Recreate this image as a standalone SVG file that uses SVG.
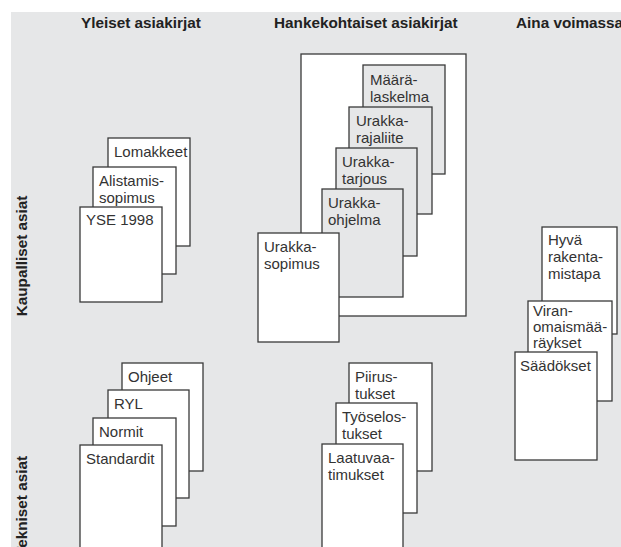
<svg xmlns="http://www.w3.org/2000/svg" width="621" height="547" viewBox="0 0 621 547">
<style>
  .bg { fill: #e6e7e8; }
  .doc { fill: #ffffff; stroke: #3a3a3a; stroke-width: 1.3; }
  .docg { fill: #e6e7e8; stroke: #3a3a3a; stroke-width: 1.3; }
  .t { font-family: "Liberation Sans", Arial, sans-serif; font-size: 15px; fill: #333333; }
  .h { font-family: "Liberation Sans", Arial, sans-serif; font-size: 15.3px; font-weight: bold; fill: #222222; }
</style>
<rect width="621" height="547" fill="#ffffff"/>
<rect class="bg" x="11" y="12" width="610" height="535"/>

<g id="headers">
  <text class="h" x="81" y="28">Yleiset asiakirjat</text>
  <text class="h" x="274" y="28">Hankekohtaiset asiakirjat</text>
  <text class="h" x="516" y="28">Aina voimassa</text>
  <text class="h" transform="translate(27,256) rotate(-90)" text-anchor="middle">Kaupalliset asiat</text>
  <text class="h" transform="translate(27,456) rotate(-90)" text-anchor="end">Tekniset asiat</text>
</g>

<g id="connectors"></g>

<!-- Column 1, commercial -->
<g id="lomakkeet">
  <rect class="doc" x="108" y="138" width="82" height="108"/>
  <text class="t" x="114" y="157">Lomakkeet</text>
</g>
<g id="alistamissopimus">
  <rect class="doc" x="93" y="167" width="83" height="107"/>
  <text class="t" x="99" y="186">Alistamis-</text>
  <text class="t" x="99" y="203">sopimus</text>
</g>
<g id="yse1998">
  <rect class="doc" x="80" y="207" width="82" height="95"/>
  <text class="t" x="86" y="225">YSE 1998</text>
</g>

<!-- Column 2, commercial -->
<g id="hankekohtaiset">
  <rect class="doc" x="301" y="54" width="165" height="262"/>
</g>
<g id="maaralaskelma">
  <rect class="docg" x="363" y="65" width="82" height="109"/>
  <text class="t" x="370" y="85">Määrä-</text>
  <text class="t" x="370" y="102">laskelma</text>
</g>
<g id="urakkarajaliite">
  <rect class="docg" x="349" y="107" width="83" height="107"/>
  <text class="t" x="356" y="126">Urakka-</text>
  <text class="t" x="356" y="143">rajaliite</text>
</g>
<g id="urakkatarjous">
  <rect class="docg" x="336" y="148" width="81" height="108"/>
  <text class="t" x="342" y="167">Urakka-</text>
  <text class="t" x="342" y="184">tarjous</text>
</g>
<g id="urakkaohjelma">
  <rect class="docg" x="322" y="189" width="81" height="108"/>
  <text class="t" x="328" y="208">Urakka-</text>
  <text class="t" x="328" y="225">ohjelma</text>
</g>
<g id="urakkasopimus">
  <rect class="doc" x="258" y="233" width="81" height="109"/>
  <text class="t" x="264" y="252">Urakka-</text>
  <text class="t" x="264" y="269">sopimus</text>
</g>

<!-- Column 3 -->
<g id="hyvarakentamistapa">
  <rect class="doc" x="542" y="227" width="75" height="107"/>
  <text class="t" x="548" y="245">Hyvä</text>
  <text class="t" x="548" y="262">rakenta-</text>
  <text class="t" x="548" y="279">mistapa</text>
</g>
<g id="viranomaismaaraykset">
  <rect class="doc" x="528" y="301" width="84" height="100"/>
  <text class="t" x="533" y="316">Viran-</text>
  <text class="t" x="533" y="332">omaismää-</text>
  <text class="t" x="533" y="348">räykset</text>
</g>
<g id="saadokset">
  <rect class="doc" x="515" y="352" width="82" height="108"/>
  <text class="t" x="520" y="371">Säädökset</text>
</g>

<!-- Column 1, technical -->
<g id="ohjeet">
  <rect class="doc" x="122" y="363" width="81" height="108"/>
  <text class="t" x="128" y="382">Ohjeet</text>
</g>
<g id="ryl">
  <rect class="doc" x="108" y="390" width="81" height="108"/>
  <text class="t" x="114" y="409">RYL</text>
</g>
<g id="normit">
  <rect class="doc" x="93" y="418" width="83" height="108"/>
  <text class="t" x="99" y="437">Normit</text>
</g>
<g id="standardit">
  <rect class="doc" x="80" y="445" width="82" height="120"/>
  <text class="t" x="86" y="464">Standardit</text>
</g>

<!-- Column 2, technical -->
<g id="piirustukset">
  <rect class="doc" x="349" y="363" width="83" height="108"/>
  <text class="t" x="355" y="382">Piirus-</text>
  <text class="t" x="355" y="399">tukset</text>
</g>
<g id="tyoselostukset">
  <rect class="doc" x="336" y="403" width="81" height="110"/>
  <text class="t" x="342" y="422">Työselos-</text>
  <text class="t" x="342" y="439">tukset</text>
</g>
<g id="laatuvaatimukset">
  <rect class="doc" x="322" y="444" width="81" height="120"/>
  <text class="t" x="328" y="463">Laatuvaa-</text>
  <text class="t" x="328" y="480">timukset</text>
</g>
</svg>
